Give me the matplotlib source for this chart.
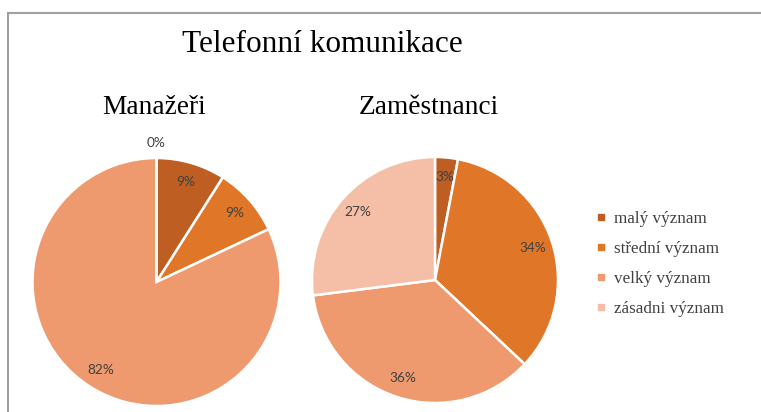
import matplotlib.pyplot as plt
from matplotlib.lines import Line2D

# data
categories = ['malý význam', 'střední význam', 'velký význam', 'zásadni význam']
manazeri = [9, 9, 82, 0]
zamestnanci = [3, 34, 36, 27]
colors = ['#BF5E22', '#E07627', '#EE9A6E', '#F4BFA6']

W, H = 761, 412
fig = plt.figure(figsize=(W / 100, H / 100), dpi=100)

# rámeček grafu (jen horní a levá hrana je vidět)
fig.add_artist(Line2D([8 / W, 1], [1 - 12.5 / H, 1 - 12.5 / H], color='#A0A0A0', lw=1.5))
fig.add_artist(Line2D([8 / W, 8 / W], [1 - 12.5 / H, 0], color='#A0A0A0', lw=1.5))


def draw_pie(values, cx, cy, r, title, title_x):
    ax = fig.add_axes([(cx - r) / W, 1 - (cy + r) / H, 2 * r / W, 2 * r / H])
    wedges, texts, autotexts = ax.pie(values, colors=colors, startangle=90, counterclock=False,
                                      autopct=lambda p: f'{p:.0f}%', pctdistance=0.84,
                                      wedgeprops=dict(edgecolor='white', linewidth=1.8),
                                      textprops=dict(fontsize=9.8, color='#404040', family='Lato'))
    # nulová výseč - popisek nad koláčem
    for v, t in zip(values, autotexts):
        if v == 0:
            x, y = t.get_position()
            t.set_position((x * 1.12 / 0.84, y * 1.12 / 0.84))
    ax.set_xlim(-1, 1)
    ax.set_ylim(-1, 1)
    ax.set_aspect('auto')
    fig.text(title_x / W, 1 - 108 / H, title, ha='center', va='center', fontsize=19.7,
             family='Liberation Serif', color='black')


draw_pie(manazeri, 156.5, 282, 124, 'Manažeři', 154)
draw_pie(zamestnanci, 435, 280, 123, 'Zaměstnanci', 429)

fig.text(322 / W, 1 - 44 / H, 'Telefonní komunikace', ha='center', va='center', fontsize=22.5,
         family='Liberation Serif', color='black')

handles = [Line2D([], [], marker='s', linestyle='', color=c, markersize=5) for c in colors]
fig.legend(handles, categories, loc='center left', bbox_to_anchor=(596 / W, 1 - 264 / H),
           frameon=False, prop=dict(family='Liberation Serif', size=12.3), labelcolor='#404040',
           handlelength=0.6, handletextpad=0.45, labelspacing=0.82, borderpad=0, borderaxespad=0)

plt.savefig('out.png', dpi=100)
